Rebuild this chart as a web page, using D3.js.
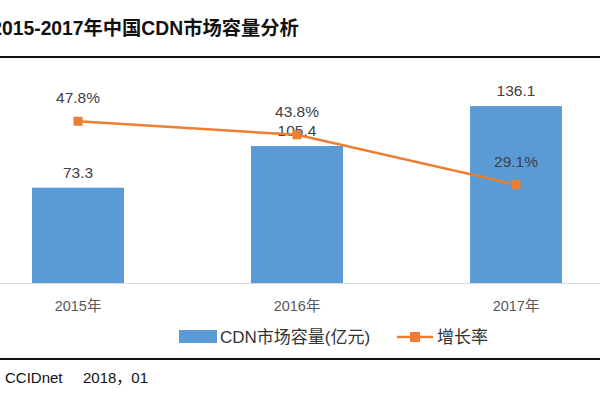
<!DOCTYPE html>
<html><head><meta charset="utf-8">
<script src="https://cdn.jsdelivr.net/npm/d3@7"></script>
<style>body{margin:0;background:#fff}svg{display:block}</style>
</head><body>
<svg id="c" width="600" height="400"></svg>
<script>
const years = ["2015年", "2016年", "2017年"];
const capacity = [73.3, 105.4, 136.1];
const growth = [47.8, 43.8, 29.1];
const capacityLabels = ["73.3", "105.4", "136.1"];
const growthLabels = ["47.8%", "43.8%", "29.1%"];
const legendLabels = ["CDN市场容量(亿元)", "增长率"];
const titleText = "2015-2017年中国CDN市场容量分析";
const sourceParts = ["CCIDnet", "2018，01"];

const FONT = '"Liberation Sans", Arial, "Noto Sans CJK SC", sans-serif';
const BLUE = "#5B9BD5", ORANGE = "#ED7D31";
const svg = d3.select("#c");

const x = d3.scaleBand().domain(years).range([-31.5, 625.5]).paddingInner(0.58).paddingOuter(0.29);
const y = d3.scaleLinear().domain([0, 160]).range([283, 75]);
const y2 = d3.scaleLinear().domain([0, 60]).range([283, 80]);

// title (left edge cropped as in the original)
svg.append("text").attr("x", -8.7).attr("y", 35).attr("font-family", FONT)
  .attr("font-size", 19.3).attr("font-weight", "bold").attr("fill", "#111").text(titleText);
svg.append("line").attr("x1", 0).attr("x2", 600).attr("y1", 57).attr("y2", 57)
  .attr("stroke", "#111").attr("stroke-width", 2);

// bars
svg.selectAll("rect.bar").data(capacity).join("rect").attr("class", "bar")
  .attr("x", (d, i) => x(years[i])).attr("width", x.bandwidth())
  .attr("y", d => y(d)).attr("height", d => y(0) - y(d)).attr("fill", BLUE);

// axis
const ax = svg.append("g").attr("transform", "translate(0,283)")
  .call(d3.axisBottom(x).tickSize(0));
ax.select(".domain").remove();
ax.selectAll("text").attr("y", 28).attr("dy", 0).attr("font-family", FONT)
  .attr("font-size", 14.5).attr("fill", "#595959");
svg.append("line").attr("x1", 0).attr("x2", 600).attr("y1", 283.5).attr("y2", 283.5)
  .attr("stroke", "#d9d9d9").attr("stroke-width", 1);

// bar labels
svg.selectAll("text.bl").data(capacity).join("text").attr("class", "bl")
  .attr("x", (d, i) => x(years[i]) + x.bandwidth() / 2).attr("y", d => y(d) - 10)
  .attr("text-anchor", "middle").attr("font-family", FONT).attr("font-size", 15.5)
  .attr("fill", "#404040").text((d, i) => capacityLabels[i]);

// line
const cx = (d, i) => x(years[i]) + x.bandwidth() / 2;
svg.append("path").datum(growth)
  .attr("d", d3.line().x(cx).y(d => y2(d)))
  .attr("fill", "none").attr("stroke", ORANGE).attr("stroke-width", 2.5);
svg.selectAll("rect.mk").data(growth).join("rect").attr("class", "mk")
  .attr("x", (d, i) => cx(d, i) - 4.5).attr("y", d => y2(d) - 4.5)
  .attr("width", 9).attr("height", 9).attr("fill", ORANGE);
svg.selectAll("text.gl").data(growth).join("text").attr("class", "gl")
  .attr("x", cx).attr("y", d => y2(d) - 18)
  .attr("text-anchor", "middle").attr("font-family", FONT).attr("font-size", 15.5)
  .attr("fill", "#404040").text((d, i) => growthLabels[i]);

// legend
svg.append("rect").attr("x", 179).attr("y", 330).attr("width", 38).attr("height", 13).attr("fill", BLUE);
svg.append("text").attr("x", 220).attr("y", 343).attr("font-family", FONT)
  .attr("font-size", 17).attr("fill", "#333").text(legendLabels[0]);
svg.append("line").attr("x1", 397).attr("x2", 433).attr("y1", 337).attr("y2", 337)
  .attr("stroke", ORANGE).attr("stroke-width", 2.5);
svg.append("rect").attr("x", 410).attr("y", 332).attr("width", 10).attr("height", 10).attr("fill", ORANGE);
svg.append("text").attr("x", 437).attr("y", 343).attr("font-family", FONT)
  .attr("font-size", 17).attr("fill", "#333").text(legendLabels[1]);

// bottom rule & source
svg.append("line").attr("x1", 0).attr("x2", 600).attr("y1", 359).attr("y2", 359)
  .attr("stroke", "#111").attr("stroke-width", 2);
const src = svg.append("text").attr("y", 383).attr("font-family", FONT)
  .attr("font-size", 15).attr("fill", "#111");
src.append("tspan").attr("x", 5).text(sourceParts[0]);
src.append("tspan").attr("x", 83).text(sourceParts[1]);
</script>
</body></html>
